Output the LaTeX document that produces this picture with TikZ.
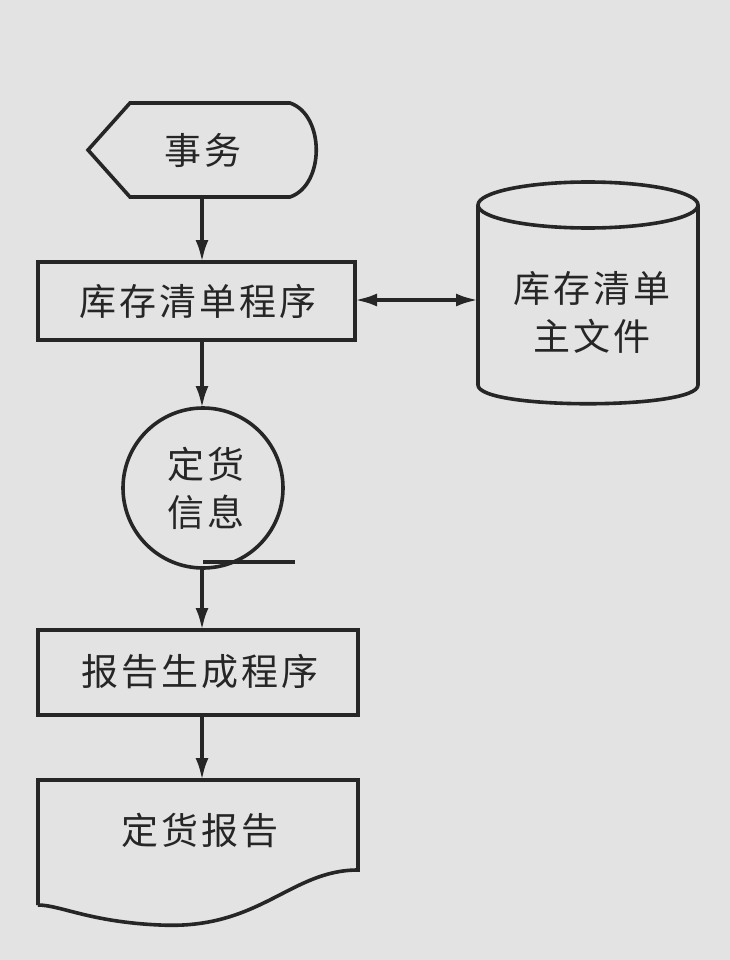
\documentclass[tikz,border=0pt]{standalone}
\usepackage{fontspec}
\newfontfamily\cjk[LetterSpace=8]{Noto Sans CJK SC}
\usetikzlibrary{arrows.meta}
\begin{document}
\begin{tikzpicture}[x=1pt,y=-1pt,
  ln/.style={line width=3.6pt,draw=black!85},
  tip/.tip={Latex[length=22pt,width=13pt]},
  arr/.style={ln,-tip},
  txt/.style={font=\cjk\fontsize{37}{48}\selectfont,align=center,text=black!85}]
\fill[black!11] (0,0) rectangle (730,960);
\useasboundingbox (0,0) rectangle (730,960);
% display shape
\draw[ln] (130,103) -- (290,103) .. controls (325,115) and (325,185) .. (290,197) -- (130,197) -- (88,150) -- cycle;
\node[txt] (sw) at (203,150) {事务};
\coordinate (swb) at (202,197);
% box 1
\draw[ln] (38,262) rectangle (355,340);
\node[txt] (p1) at (198,301) {库存清单程序};
\coordinate (p1t) at (202,262);
\coordinate (p1b) at (202,340);
\coordinate (p1r) at (355,300);
% cylinder
\draw[ln] (478,205) -- (478,385) .. controls (478,410) and (698,410) .. (698,385) -- (698,205);
\draw[ln] (588,205) ellipse (110 and 23);
\node[txt] (cy) at (592,312) {库存清单\\主文件};
\coordinate (cyl) at (478,300);
% circle
\draw[ln] (203,488) circle (80);
\draw[ln] (203,562) -- (295,562);
\node[txt] (ci) at (206,488) {定货\\信息};
\coordinate (cit) at (202,408);
\coordinate (cib) at (202,568);
% box 2
\draw[ln] (38,630) rectangle (358,715);
\node[txt] (p2) at (200,672) {报告生成程序};
\coordinate (p2t) at (202,630);
\coordinate (p2b) at (202,715);
% document
\draw[ln] (38,905) -- (38,780) -- (358,780) -- (358,870) .. controls (290,870) and (260,930) .. (160,925) .. controls (90,922) and (60,905) .. (38,905);
\node[txt] (dc) at (200,830) {定货报告};
\coordinate (dct) at (202,780);
% arrows
\draw[arr] (swb) -- (p1t);
\draw[arr] (p1b) -- (cit);
\draw[arr] (cib) -- (p2t);
\draw[arr] (p2b) -- (dct);
\draw[ln,tip-tip] (p1r) -- (cyl);
\end{tikzpicture}
\end{document}
